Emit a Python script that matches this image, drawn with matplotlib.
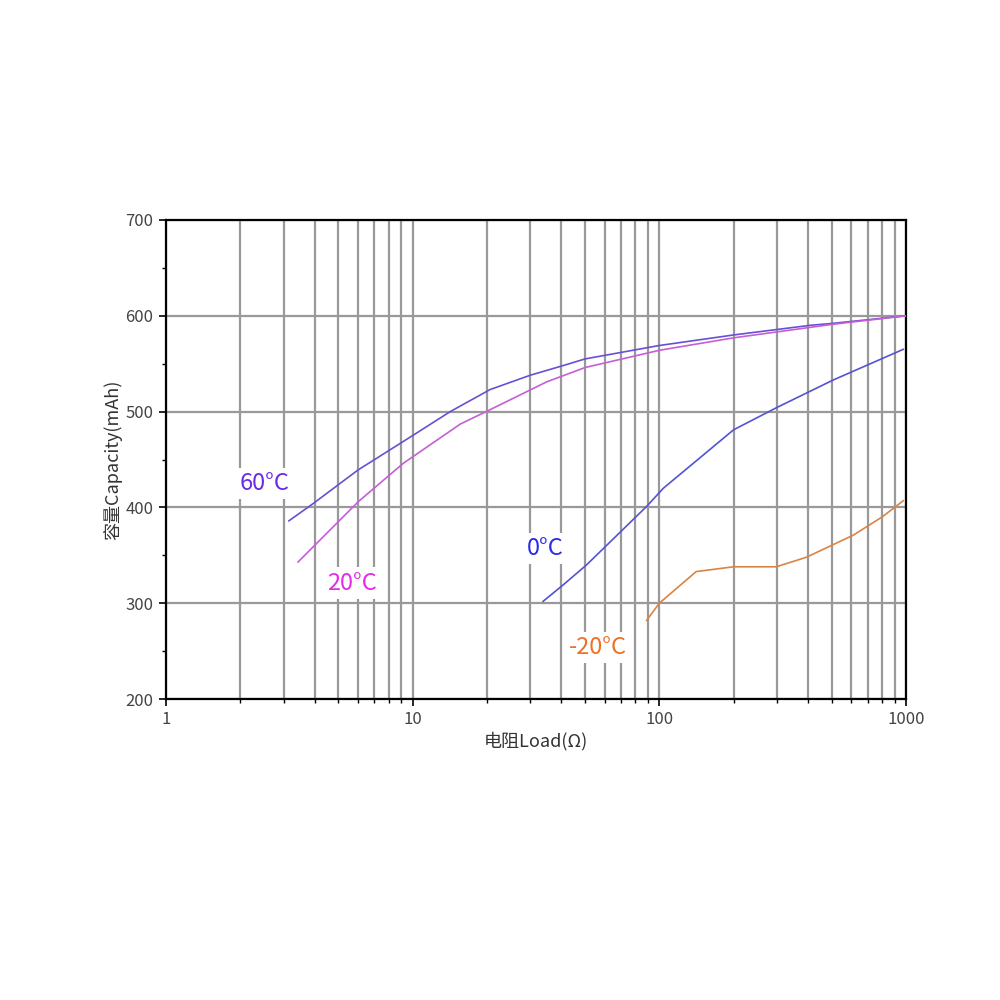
import numpy as np
import matplotlib.pyplot as plt
from matplotlib.ticker import MultipleLocator, LogLocator, FixedLocator

plt.rcParams['font.family'] = ['Noto Sans CJK SC', 'DejaVu Sans']

# curves: load (ohm), capacity (mAh)
load_60 = [3.15, 3.95, 6.0, 10, 14.2, 20.6, 30, 40.7, 50, 100, 200, 407, 500, 1000]
cap_60 = [386, 404, 439, 475, 500, 523, 538, 548, 555, 569, 580, 590, 592, 600]

load_20 = [3.43, 6.02, 9.16, 15.6, 20.6, 34.9, 50, 100, 200, 500, 1000]
cap_20 = [343, 406, 446, 487, 502, 531, 546, 564, 577, 591, 600]

load_0 = [33.8, 40.7, 50.7, 88.8, 103.8, 200, 298, 507, 975]
cap_0 = [302, 319, 340, 401, 420, 481, 504, 533, 565]

load_m20 = [88.8, 100, 141, 200, 298, 395, 611, 800, 975]
cap_m20 = [282, 300, 333, 338, 338, 348, 371, 390, 407]

series = [
    (load_60, cap_60, '#6a4fd6', '60°C', (2.5, 425), '#6a2be6'),
    (load_20, cap_20, '#c45fd4', '20°C', (5.67, 321), '#e62ae6'),
    (load_0, cap_0, '#5353d4', '0°C', (34.4, 357), '#2b2be6'),
    (load_m20, cap_m20, '#d98445', '-20°C', (56.4, 254), '#ec7028'),
]

fig = plt.figure(figsize=(10, 10), dpi=100)
ax = fig.add_axes([0.166, 0.301, 0.74, 0.479])

ax.set_xscale('log')
ax.set_xlim(1, 1000)
ax.set_ylim(200, 700)

ax.xaxis.set_major_locator(FixedLocator([1, 10, 100, 1000]))
ax.xaxis.set_minor_locator(LogLocator(base=10, subs=np.arange(2, 10)))
ax.set_xticklabels(['1', '10', '100', '1000'])
ax.yaxis.set_major_locator(MultipleLocator(100))
ax.yaxis.set_minor_locator(MultipleLocator(50))

ax.grid(which='major', axis='both', color='#999999', lw=1.6)
ax.grid(which='minor', axis='x', color='#999999', lw=1.6)
ax.set_axisbelow(True)

for x, y, c, name, pos, tc in series:
    ax.plot(x, y, color=c, lw=1.2, zorder=3)
    ax.text(pos[0], pos[1], name, color=tc, fontsize=17, ha='center', va='center',
            zorder=4, bbox=dict(facecolor='white', edgecolor='none', pad=3))

for s in ax.spines.values():
    s.set_color('black')
    s.set_linewidth(1.6)

ax.tick_params(which='major', direction='out', length=5, width=1.2, labelsize=12,
               labelcolor='#444444', pad=4)
ax.tick_params(which='minor', direction='out', length=3, width=1.0)

ax.set_xlabel('电阻Load(Ω)', fontsize=13, color='#333333', labelpad=2)
ax.set_ylabel('容量Capacity(mAh)', fontsize=13, color='#333333', labelpad=2)

fig.savefig('out.png')
